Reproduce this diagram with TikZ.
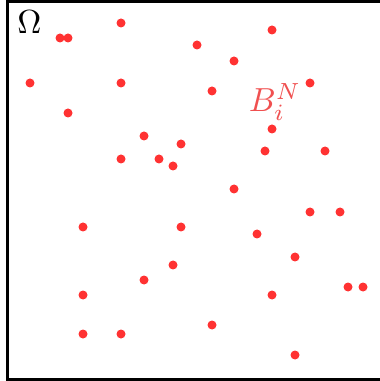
\documentclass[tikz,border=0pt]{standalone}
\usepackage{amsmath}
\usepackage{xcolor}
\usepackage{tikz}
\usetikzlibrary{positioning}
\definecolor{dotred}{RGB}{255,50,50}
\definecolor{labelred}{RGB}{240,80,80}
\tikzset{
	sample/.style={
		circle,
		fill=dotred,
		minimum size=2.7pt,
		inner sep=0pt
	},
	domainbox/.style={
		draw=black,
		line width=0.9pt
	}
}

\begin{document}
\begin{tikzpicture}[
	x=0.3pt, y=-0.3pt,
	every node/.style={font=\normalsize}
	]
	\useasboundingbox (0,0) rectangle (379,381);
	
	%--------------------
	% Domain
	%--------------------
	\draw[domainbox] (7.5,1.2) rectangle (390,379);
	\node (omega) at (29.5,22.5) {$\Omega$};
	
	%--------------------
	% Sample points
	%--------------------
	\foreach \x/\y [count=\i] in {
		121/23, 60/38, 68/38, 30/83, 121/83, 68/113,
		144/136, 181/144, 121/159, 159/159, 173/166,
		272/30, 197/45, 234/61, 310/83, 212/91,
		272/129, 265/151, 325/151, 234/189,
		83/227, 181/227, 173/265, 144/280, 83/295,
		83/334, 121/334,
		310/212, 340/212, 257/234, 295/257,
		348/287, 363/287, 272/295, 212/325, 295/355}
	\node[sample] (p\i) at (\x,\y) {};
	
	\node[text=labelred, inner sep=0pt] (ball) at (275,102) {$B_i^N$};
	
\end{tikzpicture}
\end{document}
